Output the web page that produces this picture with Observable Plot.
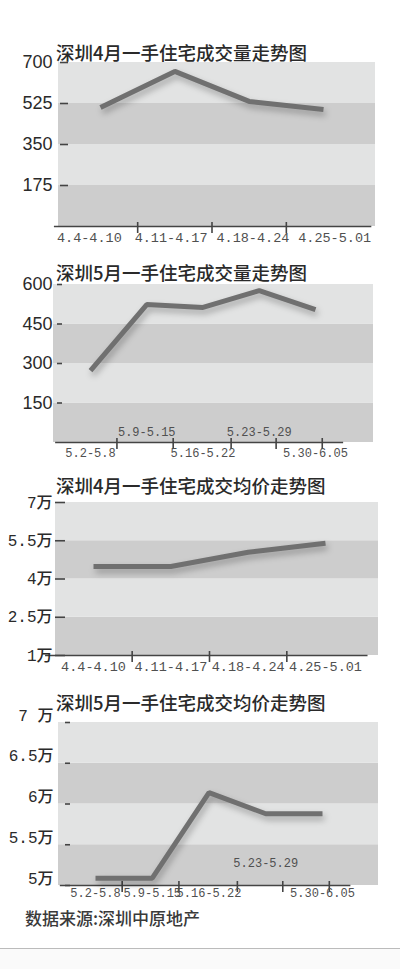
<!DOCTYPE html>
<html>
<head>
<meta charset="utf-8">
<script src="https://cdn.jsdelivr.net/npm/d3@7"></script>
<script src="https://cdn.jsdelivr.net/npm/@observablehq/plot@0.6"></script>
<style>
  html, body { margin: 0; padding: 0; background: #fff; }
  #page { position: relative; width: 400px; height: 969px; overflow: hidden; background: #fff; }
  .title { position: absolute; left: 56px; font-family: "Noto Sans CJK SC", sans-serif; font-weight: 500; font-size: 18.5px; line-height: 1; color: #2a2a2a; white-space: nowrap; }
  #source { position: absolute; left: 25px; top: 909px; font-family: "Noto Sans CJK SC", sans-serif; font-weight: 500; font-size: 17px; line-height: 1; color: #3a3a3a; white-space: nowrap; }
  #bottom { position: absolute; left: 0; top: 948px; width: 400px; height: 21px; border-top: 1.5px solid #bbb; background: #fafafa; }
</style>
</head>
<body>
<div id="page"></div>
<script>
// ---- data ----
const weeksApr = ["4.4-4.10", "4.11-4.17", "4.18-4.24", "4.25-5.01"];
const weeksMay = ["5.2-5.8", "5.9-5.15", "5.16-5.22", "5.23-5.29", "5.30-6.05"];

const volumeApr = [508, 662, 534, 499];
const volumeMay = [273, 524, 513, 577, 505];
const priceApr = [44900, 44900, 50500, 54000];
const priceMay = [50900, 50900, 61400, 58800, 58800];

const yTicksVolApr = [175, 350, 525, 700];
const yTicksVolMay = [150, 300, 450, 600];
const yTicksPriceApr = [10000, 25000, 40000, 55000, 70000];
const yTickLabelsPriceApr = ["1万", "2.5万", "4万", "5.5万", "7万"];
const yTicksPriceMay = [50000, 55000, 60000, 65000, 70000];
const yTickLabelsPriceMay = ["5万", "5.5万", "6万", "6.5万", "7 万"];

// week-boundary tick values (in week-index units)
const xTicksApr = [0.5, 1.5, 2.5];
const xTicksMay = [0.47, 1.47, 2.5, 3.3, 4.12];

const titles = [
  "深圳4月一手住宅成交量走势图",
  "深圳5月一手住宅成交量走势图",
  "深圳4月一手住宅成交均价走势图",
  "深圳5月一手住宅成交均价走势图"
];
const sourceText = "数据来源:深圳中原地产";

// ---- helpers ----
const LIGHT = "#e2e3e3", DARK = "#cdcdcd", LINE = "#707070", AXIS = "#444";

function bands(min, ticks) {
  const edges = ticks[0] === min ? ticks : [min, ...ticks];
  return d3.range(edges.length - 1).map(i => ({y1: edges[i], y2: edges[i + 1], fill: i % 2 === 0 ? DARK : LIGHT}));
}

function panel(cfg) {
  const n = cfg.cats.length;
  const mid = (n - 1) / 2;
  const spread = cfg.spread || 1;
  const rows = cfg.cats.map((c, i) => ({i, cat: c, v: cfg.values[i], lx: mid + (i - mid) * spread}));
  const ymin = cfg.ydomain[0];
  const above = rows.filter(r => cfg.aboveIdx && cfg.aboveIdx.includes(r.i));
  const below = rows.filter(r => !(cfg.aboveIdx && cfg.aboveIdx.includes(r.i)));
  const tickLabel = cfg.tickLabels ? (d => cfg.tickLabels[cfg.yticks.indexOf(d)]) : (d => String(d));
  const mono = "Liberation Mono, DejaVu Sans Mono, monospace";
  const plot = Plot.plot({
    width: 400,
    height: cfg.height,
    marginTop: cfg.mt, marginBottom: cfg.mb, marginLeft: cfg.ml, marginRight: cfg.mr,
    style: {background: "transparent", overflow: "visible"},
    x: {domain: [0, n - 1], range: cfg.xrange, axis: null},
    y: {domain: cfg.ydomain, axis: null},
    marks: [
      Plot.rect(bands(ymin, cfg.yticks), {y1: "y1", y2: "y2", fill: "fill"}),
      Plot.ruleY([ymin], {x1: -0.62, x2: n - 0.5 + (cfg.axisExtra || 0), stroke: AXIS, strokeWidth: 1.6}),
      Plot.axisX({ticks: cfg.xticks, tickSize: 11, dy: -4, label: null, tickFormat: () => "", stroke: AXIS, strokeWidth: 1.6}),
      Plot.axisY({ticks: cfg.yticks, tickSize: cfg.ytickSize, dx: cfg.ytickDx, label: null, tickFormat: () => "", stroke: AXIS, strokeWidth: 1.6}),
      Plot.axisY({ticks: cfg.yticks, tickSize: 0, tickPadding: cfg.ypad, dy: cfg.ylabelDy || 0, label: null, tickFormat: tickLabel,
                  fontSize: cfg.yfont, fontFamily: cfg.yfamily, fontWeight: cfg.yweight || "normal", fill: "#2a2a2a"}),
      Plot.text(below, {x: "lx", y: () => ymin, text: "cat", dy: cfg.belowDy, lineAnchor: "middle",
                        fontSize: cfg.xfont, fontFamily: mono, fill: "#505050"}),
      Plot.text(above, {x: "lx", y: () => ymin, text: "cat", dy: cfg.aboveDy, lineAnchor: "middle",
                        fontSize: cfg.xfont, fontFamily: mono, fill: "#505050"}),
      Plot.line(rows, {x: "i", y: "v", stroke: LINE, strokeWidth: 5, strokeLinejoin: "miter", strokeLinecap: "butt"})
    ]
  });
  plot.querySelectorAll('g[aria-label="line"] path').forEach(p => {
    p.style.filter = "drop-shadow(2px 4px 3px rgba(0,0,0,0.28))";
  });
  plot.style.position = "absolute";
  plot.style.top = cfg.top + "px";
  plot.style.left = "0px";
  return plot;
}

const page = document.getElementById("page");

const configs = [
  {cats: weeksApr, values: volumeApr, ydomain: [0, 700], yticks: yTicksVolApr, xticks: xTicksApr,
   top: 40, height: 215, mt: 22, mb: 29, ml: 58, mr: 25, xrange: [100, 323], spread: 1.1,
   ytickSize: 8, ytickDx: 10, ypad: 6, yfont: 18, yfamily: "Liberation Sans, Arial, sans-serif",
   xfont: 13.5, belowDy: 11, axisExtra: 0.15},
  {cats: weeksMay, values: volumeMay, ydomain: [0, 600], yticks: yTicksVolMay, xticks: xTicksMay,
   top: 262, height: 200, mt: 22, mb: 20, ml: 53, mr: 27, xrange: [90, 315],
   ytickSize: 5, ytickDx: 9, ypad: 1, yfont: 18, yfamily: "Liberation Sans, Arial, sans-serif",
   xfont: 12, belowDy: 11, aboveDy: -10, aboveIdx: [1, 3]},
  {cats: weeksApr, values: priceApr, ydomain: [10000, 70000], yticks: yTicksPriceApr, tickLabels: yTickLabelsPriceApr, xticks: xTicksApr,
   top: 490, height: 190, mt: 12, mb: 25, ml: 55, mr: 22, xrange: [93, 325],
   ytickSize: 10, ytickDx: 10, ypad: 3, yfont: 16, yweight: 500, yfamily: "Liberation Mono, Noto Sans CJK SC, monospace",
   xfont: 13.5, belowDy: 11, axisExtra: 0.05},
  {cats: weeksMay, values: priceMay, ydomain: [50000, 70000], yticks: yTicksPriceMay, tickLabels: yTickLabelsPriceMay, xticks: xTicksMay,
   top: 712, height: 195, mt: 10, mb: 22, ml: 58, mr: 22, xrange: [95, 322],
   ytickSize: 5, ytickDx: 12, ypad: 5, ylabelDy: -7, yfont: 16, yweight: 500, yfamily: "Liberation Mono, Noto Sans CJK SC, monospace",
   xfont: 12, belowDy: 8, aboveDy: -22, aboveIdx: [3]}
];

configs.forEach(c => page.appendChild(panel(c)));

const titleTops = [43, 263, 476, 693];
titles.forEach((t, k) => {
  const d = document.createElement("div");
  d.className = "title";
  d.style.top = titleTops[k] + "px";
  d.textContent = t;
  page.appendChild(d);
});

const src = document.createElement("div");
src.id = "source";
src.textContent = sourceText;
page.appendChild(src);

const bottom = document.createElement("div");
bottom.id = "bottom";
page.appendChild(bottom);
</script>
</body>
</html>
